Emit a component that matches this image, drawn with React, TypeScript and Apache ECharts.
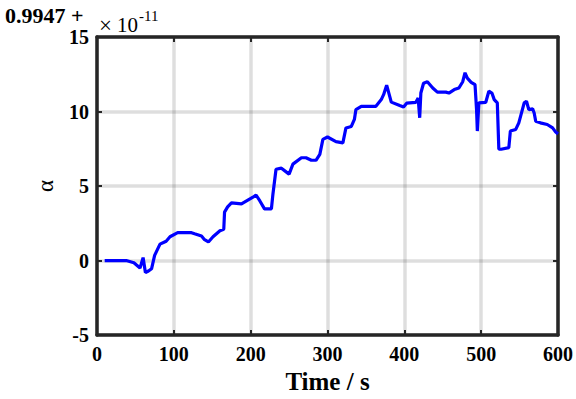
import React, { useEffect, useRef } from "react";
import * as echarts from "echarts";

const times = [
  10, 38, 48, 56, 60, 63, 67, 71, 75, 82,
  90, 95, 105, 123, 127, 136, 140, 145, 151, 160,
  165, 166, 170, 175, 188, 203, 207, 212, 218, 227,
  229, 233, 240, 250, 255, 266, 272, 279, 285, 290,
  294, 300, 311, 320, 324, 331, 335, 337, 344, 363,
  370, 373, 377, 383, 394, 399, 403, 415, 418, 420,
  421.5, 425, 430, 437, 443, 454, 458, 465, 471, 476,
  479, 482, 487, 492, 494, 495, 497, 506, 510, 514,
  517, 521, 523, 526, 536, 538, 545, 549, 556, 559,
  562, 567, 569, 571, 577, 586, 593, 597, 600,
];

const alphaValues = [
  0, 0, -0.15, -0.5, 0.2, -0.8, -0.7, -0.55, 0.35, 1.1,
  1.3, 1.6, 1.87, 1.87, 1.8, 1.65, 1.4, 1.25, 1.6, 2.0,
  2.1, 3.25, 3.6, 3.87, 3.8, 4.25, 4.4, 4.0, 3.47, 3.47,
  4.47, 6.13, 6.2, 5.8, 6.47, 6.9, 6.9, 6.73, 6.73, 7.13,
  8.13, 8.29, 7.98, 7.9, 8.9, 9.0, 9.47, 10.13, 10.35, 10.35,
  10.8, 11.13, 11.77, 10.63, 10.4, 10.3, 10.56, 10.62, 10.9, 9.58,
  11.24, 11.9, 12.0, 11.58, 11.3, 11.3, 11.24, 11.47, 11.58, 12.0,
  12.6, 12.24, 11.96, 11.8, 10.13, 8.69, 10.58, 10.62, 11.36, 11.24,
  10.8, 10.58, 7.47, 7.47, 7.58, 8.69, 8.8, 9.24, 10.58, 10.69,
  10.13, 10.18, 9.9, 9.35, 9.24, 9.13, 8.9, 8.62, 8.5,
];

const xTicks = { min: 0, max: 600, interval: 100 };
const yTicks = { min: -5, max: 15, interval: 5 };
const offsetText = "0.9947 +";
const timesSign = "×";
const exponentBase = "10";
const exponentPower = "-11";
const xName = "Time / s";
const yName = "α";

const SERIF = "Liberation Serif";
const AXIS_COLOR = "#262626";

export default function App() {
  const ref = useRef<HTMLDivElement>(null);

  useEffect(() => {
    if (!ref.current) return;
    const chart = echarts.init(ref.current, null, { renderer: "svg" });
    const axisLine = { show: true, onZero: false, lineStyle: { color: AXIS_COLOR, width: 3.5 } };
    const axisTick = { show: true, inside: true, length: 5, lineStyle: { color: AXIS_COLOR, width: 2 } };
    const splitLine = { show: true, lineStyle: { color: "rgba(0,0,0,0.13)", width: 3.5 } };
    const labelStyle = {
      fontFamily: SERIF,
      fontWeight: "bold" as const,
      fontSize: 20,
      color: "#000",
    };
    chart.setOption({
      animation: false,
      backgroundColor: "#fff",
      grid: { left: 97, top: 37, width: 462, height: 300, containLabel: false },
      xAxis: [
        {
          type: "value",
          ...xTicks,
          position: "bottom",
          axisLine,
          axisTick,
          splitLine,
          axisLabel: { ...labelStyle, margin: 9 },
          name: xName,
          nameLocation: "middle",
          nameGap: 33,
          nameTextStyle: { fontFamily: SERIF, fontWeight: "bold", fontSize: 25, color: "#000" },
        },
        {
          type: "value",
          ...xTicks,
          position: "top",
          axisLine,
          axisTick,
          splitLine: { show: false },
          axisLabel: { show: false },
        },
      ],
      yAxis: [
        {
          type: "value",
          ...yTicks,
          position: "left",
          axisLine,
          axisTick,
          splitLine,
          axisLabel: { ...labelStyle, margin: 8 },
          name: yName,
          nameLocation: "middle",
          nameGap: 40,
          nameRotate: 90,
          nameTextStyle: { fontFamily: SERIF, fontSize: 23, color: "#000" },
        },
        {
          type: "value",
          ...yTicks,
          position: "right",
          axisLine,
          axisTick,
          splitLine: { show: false },
          axisLabel: { show: false },
        },
      ],
      graphic: [
        {
          type: "text",
          x: 5,
          y: 15.5,
          style: {
            text: offsetText,
            fontFamily: SERIF,
            fontWeight: "bold",
            fontSize: 22,
            fill: "#000",
            align: "left",
            verticalAlign: "middle",
          },
        },
        {
          type: "text",
          x: 99,
          y: 25.5,
          style: {
            text: timesSign,
            fontFamily: SERIF,
            fontSize: 23,
            fill: "#000",
            align: "left",
            verticalAlign: "middle",
          },
        },
        {
          type: "text",
          x: 117,
          y: 25.3,
          style: {
            text: exponentBase,
            fontFamily: SERIF,
            fontSize: 21,
            fill: "#000",
            align: "left",
            verticalAlign: "middle",
          },
        },
        {
          type: "text",
          x: 139,
          y: 16.2,
          style: {
            text: exponentPower,
            fontFamily: SERIF,
            fontSize: 15,
            fill: "#000",
            align: "left",
            verticalAlign: "middle",
          },
        },
      ],
      series: [
        {
          type: "line",
          xAxisIndex: 0,
          yAxisIndex: 0,
          data: times.map((t, i) => [t, alphaValues[i]]),
          showSymbol: false,
          symbol: "none",
          lineStyle: { color: "#0000ff", width: 3.2 },
          z: 3,
        },
      ],
    });
    return () => chart.dispose();
  }, []);

  return (
    <div
      ref={ref}
      style={{ position: "fixed", left: 0, top: 0, width: 576, height: 399, background: "#fff" }}
    />
  );
}
